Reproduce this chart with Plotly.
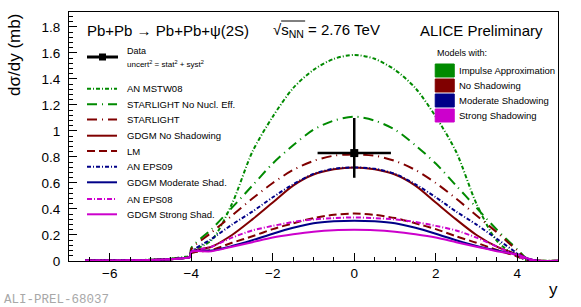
import plotly.graph_objects as go

# ---------------- data ----------------
rapidity = [-6.6, -6.0, -5.5, -5.0, -4.5, -4.2, -4.03, -4.0, -3.5, -3.0, -2.5, -2.0, -1.5, -1.0, -0.5,
            0.0, 0.5, 1.0, 1.5, 2.0, 2.5, 3.0, 3.5, 4.0, 4.25, 4.5, 5.0]

an_mstw08 = [0.003, 0.004, 0.006, 0.010, 0.018, 0.030, 0.040, 0.070, 0.160, 0.440, 0.840, 1.110, 1.330, 1.470, 1.555,
             1.585, 1.555, 1.470, 1.330, 1.110, 0.840, 0.440, 0.155, 0.035, 0.005, 0.002, 0.001]
starlight_nonucl = [0.003, 0.004, 0.006, 0.010, 0.018, 0.030, 0.040, 0.100, 0.245, 0.410, 0.580, 0.750, 0.890, 1.010, 1.080,
                    1.110, 1.080, 1.010, 0.890, 0.750, 0.580, 0.410, 0.240, 0.090, 0.015, 0.002, 0.001]
starlight = [0.003, 0.004, 0.005, 0.008, 0.014, 0.022, 0.030, 0.090, 0.220, 0.350, 0.480, 0.600, 0.700, 0.770, 0.810,
             0.820, 0.810, 0.770, 0.700, 0.600, 0.480, 0.350, 0.220, 0.080, 0.012, 0.002, 0.001]
gdgm_noshad = [0.003, 0.004, 0.005, 0.008, 0.014, 0.022, 0.030, 0.070, 0.110, 0.200, 0.320, 0.450, 0.580, 0.665, 0.705,
               0.720, 0.705, 0.665, 0.580, 0.450, 0.320, 0.200, 0.110, 0.050, 0.018, 0.002, 0.001]
lm = [0.003, 0.004, 0.005, 0.008, 0.014, 0.022, 0.030, 0.060, 0.085, 0.140, 0.190, 0.245, 0.290, 0.330, 0.355,
      0.365, 0.355, 0.330, 0.290, 0.245, 0.190, 0.140, 0.085, 0.035, 0.010, 0.002, 0.001]
an_eps09 = [0.003, 0.004, 0.005, 0.008, 0.014, 0.022, 0.030, 0.070, 0.170, 0.280, 0.380, 0.490, 0.590, 0.670, 0.710,
            0.720, 0.710, 0.670, 0.590, 0.490, 0.380, 0.280, 0.170, 0.060, 0.015, 0.002, 0.001]
gdgm_moderate = [0.003, 0.004, 0.005, 0.008, 0.014, 0.022, 0.030, 0.075, 0.080, 0.115, 0.160, 0.210, 0.255, 0.290, 0.305,
                 0.310, 0.305, 0.290, 0.255, 0.210, 0.160, 0.115, 0.080, 0.050, 0.020, 0.002, 0.001]
an_eps08 = [0.003, 0.004, 0.005, 0.008, 0.014, 0.022, 0.030, 0.070, 0.110, 0.180, 0.235, 0.270, 0.300, 0.320, 0.330,
            0.335, 0.330, 0.320, 0.300, 0.270, 0.235, 0.180, 0.110, 0.040, 0.010, 0.002, 0.001]
gdgm_strong = [0.003, 0.004, 0.005, 0.008, 0.014, 0.022, 0.030, 0.070, 0.075, 0.110, 0.145, 0.180, 0.205, 0.225, 0.237,
               0.240, 0.237, 0.225, 0.205, 0.180, 0.145, 0.110, 0.075, 0.050, 0.020, 0.002, 0.001]

data_y = [0.0]
data_xsec = [0.83]
data_ex = [0.9]
data_ey_plus = [0.27]
data_ey_minus = [0.19]

model_names = ["AN MSTW08", "STARLIGHT No Nucl. Eff.", "STARLIGHT", "GDGM No Shadowing", "LM",
               "AN EPS09", "GDGM Moderate Shad.", "AN EPS08", "GDGM Strong Shad."]
model_values = [an_mstw08, starlight_nonucl, starlight, gdgm_noshad, lm,
                an_eps09, gdgm_moderate, an_eps08, gdgm_strong]
box_labels = ["Impulse Approximation", "No Shadowing", "Moderate Shadowing", "Strong Shadowing"]

x_ticks = [-6, -4, -2, 0, 2, 4]

# ---------------- styles ----------------
GREEN = "#008a00"
RED = "#800000"
NAVY = "#000088"
MAG = "#cc00cc"
model_colors = [GREEN, GREEN, RED, RED, RED, NAVY, NAVY, MAG, MAG]
model_dash = ["4px,2px,1px,2px", "10px,5px,1px,5px", "10px,5px,1px,5px", "solid", "8px,4px",
              "4px,2px,1px,2px", "solid", "5px,2px,1px,2px", "solid"]
box_colors = [GREEN, RED, NAVY, MAG]

W, H = 581, 307
L, R, T, B = 69, 557.7, 12, 261
FONT = "Liberation Sans, Arial, sans-serif"


def px(X):
    return (X - L) / (R - L)


def py(Y):
    return (B - Y) / (B - T)


fig = go.Figure()

for name, vals, col, dash in zip(model_names, model_values, model_colors, model_dash):
    fig.add_trace(go.Scatter(x=rapidity, y=vals, mode="lines", name=name,
                             line=dict(color=col, width=2, dash=dash, shape="spline", smoothing=0.8),
                             showlegend=False))

fig.add_trace(go.Scatter(
    x=data_y, y=data_xsec, mode="markers", name="Data", showlegend=False,
    marker=dict(symbol="square", size=8, color="black"),
    error_x=dict(type="data", array=data_ex, color="black", thickness=2.5, width=0),
    error_y=dict(type="data", symmetric=False, array=data_ey_plus, arrayminus=data_ey_minus,
                 color="black", thickness=2.5, width=0),
))

shapes = []
annotations = []

# left legend
annotations.append(dict(x=px(125), y=py(51), xref="paper", yref="paper", text="Data",
                        showarrow=False, xanchor="left", yanchor="middle",
                        font=dict(family=FONT, size=9, color="black")))
annotations.append(dict(x=px(125), y=py(64), xref="paper", yref="paper",
                        text="uncert<sup>2</sup> = stat<sup>2</sup> + syst<sup>2</sup>",
                        showarrow=False, xanchor="left", yanchor="middle",
                        font=dict(family=FONT, size=8, color="black")))
shapes.append(dict(type="line", xref="paper", yref="paper", x0=px(87), x1=px(118), y0=py(57), y1=py(57),
                   line=dict(color="black", width=3)))
shapes.append(dict(type="rect", xref="paper", yref="paper", x0=px(99), x1=px(106), y0=py(53.5), y1=py(60.5),
                   line=dict(color="black", width=0), fillcolor="black"))

rows = [88.7, 104.3, 119.5, 135.7, 151.0, 166.7, 182.3, 199.0, 214.3]
for Y, name, col, dash in zip(rows, model_names, model_colors, model_dash):
    shapes.append(dict(type="line", xref="paper", yref="paper", x0=px(87), x1=px(117), y0=py(Y), y1=py(Y),
                       line=dict(color=col, width=2, dash=dash)))
    annotations.append(dict(x=px(125), y=py(Y), xref="paper", yref="paper", text=name,
                            showarrow=False, xanchor="left", yanchor="middle",
                            font=dict(family=FONT, size=9.5, color="black")))

# right legend
annotations.append(dict(x=px(435), y=py(53), xref="paper", yref="paper", text="Models with:",
                        showarrow=False, xanchor="left", yanchor="middle",
                        font=dict(family=FONT, size=9, color="black")))
for i, (lab, col) in enumerate(zip(box_labels, box_colors)):
    Yc = 70.5 + 15 * i
    shapes.append(dict(type="rect", xref="paper", yref="paper", x0=px(435), x1=px(454),
                       y0=py(Yc - 6.5), y1=py(Yc + 6.5), line=dict(color=col, width=1), fillcolor=col))
    annotations.append(dict(x=px(457), y=py(Yc), xref="paper", yref="paper", text=lab,
                            showarrow=False, xanchor="left", yanchor="middle",
                            font=dict(family=FONT, size=9.5, color="black")))

# header texts
annotations.append(dict(x=px(85), y=py(30), xref="paper", yref="paper",
                        text="Pb+Pb \u2192 Pb+Pb+\u03c8(2S)", showarrow=False,
                        xanchor="left", yanchor="middle", font=dict(family=FONT, size=15, color="black")))
annotations.append(dict(x=px(271), y=py(30), xref="paper", yref="paper",
                        text="\u221as<sub>NN</sub> = 2.76 TeV", showarrow=False,
                        xanchor="left", yanchor="middle", font=dict(family=FONT, size=15, color="black")))
shapes.append(dict(type="line", xref="paper", yref="paper", x0=px(281), x1=px(305), y0=py(21), y1=py(21),
                   line=dict(color="black", width=1)))
annotations.append(dict(x=px(418), y=py(30), xref="paper", yref="paper",
                        text="ALICE Preliminary", showarrow=False,
                        xanchor="left", yanchor="middle", font=dict(family=FONT, size=15, color="black")))

# axis titles
annotations.append(dict(x=px(14), y=1.0, xref="paper", yref="paper", text="d\u03c3/dy (mb)",
                        textangle=-90, showarrow=False, xanchor="center", yanchor="top",
                        font=dict(family=FONT, size=17, color="black")))
annotations.append(dict(x=px(553), y=0, xref="paper", yref="paper", text="y", yshift=-28,
                        showarrow=False, xanchor="center", yanchor="middle",
                        font=dict(family=FONT, size=17, color="black")))
annotations.append(dict(x=px(2), y=py(300), xref="paper", yref="paper", text="ALI-PREL-68037",
                        showarrow=False, xanchor="left", yanchor="middle",
                        font=dict(family="Liberation Mono, monospace", size=12.5, color="#a8a8a8")))

fig.update_layout(
    width=W, height=H,
    margin=dict(l=L, r=W - R, t=T, b=H - B, pad=0),
    paper_bgcolor="white", plot_bgcolor="white",
    showlegend=False,
    shapes=shapes, annotations=annotations,
    font=dict(family=FONT, color="black"),
)
fig.update_xaxes(range=[-7, 5], tickvals=x_ticks, ticks="inside", ticklen=8, tickwidth=1, tickcolor="black",
                 showgrid=False, zeroline=False, showline=True, linecolor="black", linewidth=1, mirror=True,
                 tickfont=dict(family=FONT, size=13.5, color="black"),
                 minor=dict(dtick=0.5, tick0=0, ticks="inside", ticklen=4, tickcolor="black"))
fig.update_yaxes(range=[0, 1.915], dtick=0.2, tick0=0, ticks="inside", ticklen=8, tickwidth=1, tickcolor="black",
                 showgrid=False, zeroline=False, showline=True, linecolor="black", linewidth=1, mirror=True,
                 ticklabelstandoff=5,
                 tickfont=dict(family=FONT, size=13.5, color="black"),
                 minor=dict(dtick=0.04, tick0=0, ticks="inside", ticklen=4, tickcolor="black"))

fig.write_html("out.html", config={"displayModeBar": False},
               post_script="document.body.style.margin='0px';document.body.style.overflow='hidden';")
